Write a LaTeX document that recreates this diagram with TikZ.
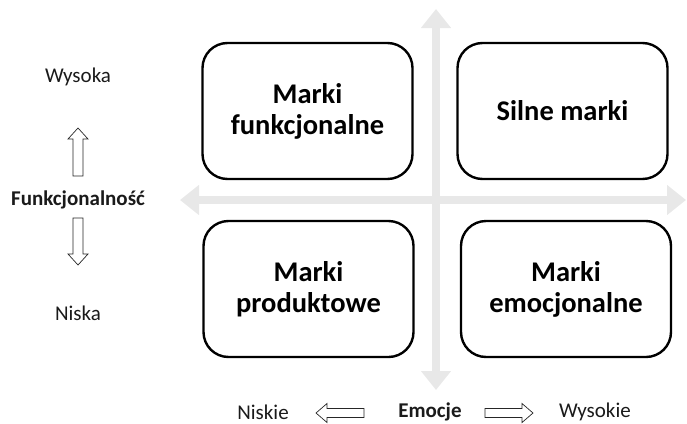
\documentclass[tikz,border=0pt]{standalone}
\usepackage{fontspec}
\setmainfont{Carlito}
\usetikzlibrary{arrows.meta}
\definecolor{axisgray}{HTML}{E8E8E8}
\definecolor{txt}{HTML}{1A1A1A}
\tikzset{
  quad/.style={draw=black, line width=2.4pt, rounded corners=25pt, fill=white,
    minimum width=210pt, minimum height=136pt, align=center,
    font=\fontsize{28.5}{31}\selectfont\bfseries, text=black, inner sep=0pt},
  axis/.style={draw=axisgray, line width=8pt,
    {Triangle[width=29pt,length=19pt]}-{Triangle[width=29pt,length=19pt]}},
  lbl/.style={font=\fontsize{21}{24}\selectfont, text=txt, inner sep=0pt},
  blbl/.style={font=\fontsize{21}{24}\selectfont\bfseries, text=txt, inner sep=0pt},
  hollow/.style={draw=black!85, line width=0.7pt, fill=white}
}
\begin{document}
\begin{tikzpicture}[x=1pt,y=-1pt]
\useasboundingbox (0,0) rectangle (687,423);
% axes
\coordinate (vt) at (436,9);
\coordinate (vb) at (436,390);
\coordinate (hl) at (180,200);
\coordinate (hr) at (686,200);
\draw[axis] (vb) -- (vt);
\draw[axis] (hl) -- (hr);
% boxes
\node[quad] (tl) at (307.5,111) {Marki\\funkcjonalne};
\node[quad] (tr) at (562.5,111) {Silne marki};
\node[quad] (bl) at (308.5,289) {Marki\\produktowe};
\node[quad] (br) at (566,289) {Marki\\emocjonalne};
% left labels
\node[lbl] (wys) at (78,77) {Wysoka};
\node[blbl] (fun) at (78,200) {Funkcjonalność};
\node[lbl] (nis) at (78,313) {Niska};
% hollow up arrow
\draw[hollow] (73,176) -- (73,139) -- (68,139) -- (78,128) -- (88,139) -- (83,139) -- (83,176) -- cycle;
% hollow down arrow
\draw[hollow] (73,218) -- (73,254) -- (68,254) -- (78,265) -- (88,254) -- (83,254) -- (83,218) -- cycle;
% bottom labels
\node[lbl] (nsk) at (263,412) {Niskie};
\node[blbl] (emo) at (430,412) {Emocje};
\node[lbl] (wsk) at (595,412) {Wysokie};
% hollow left arrow
\draw[hollow] (364,408.5) -- (327,408.5) -- (327,403.5) -- (316,413) -- (327,422.5) -- (327,417.5) -- (364,417.5) -- cycle;
% hollow right arrow
\draw[hollow] (485,408.5) -- (522,408.5) -- (522,403.5) -- (533,413) -- (522,422.5) -- (522,417.5) -- (485,417.5) -- cycle;
\end{tikzpicture}
\end{document}
